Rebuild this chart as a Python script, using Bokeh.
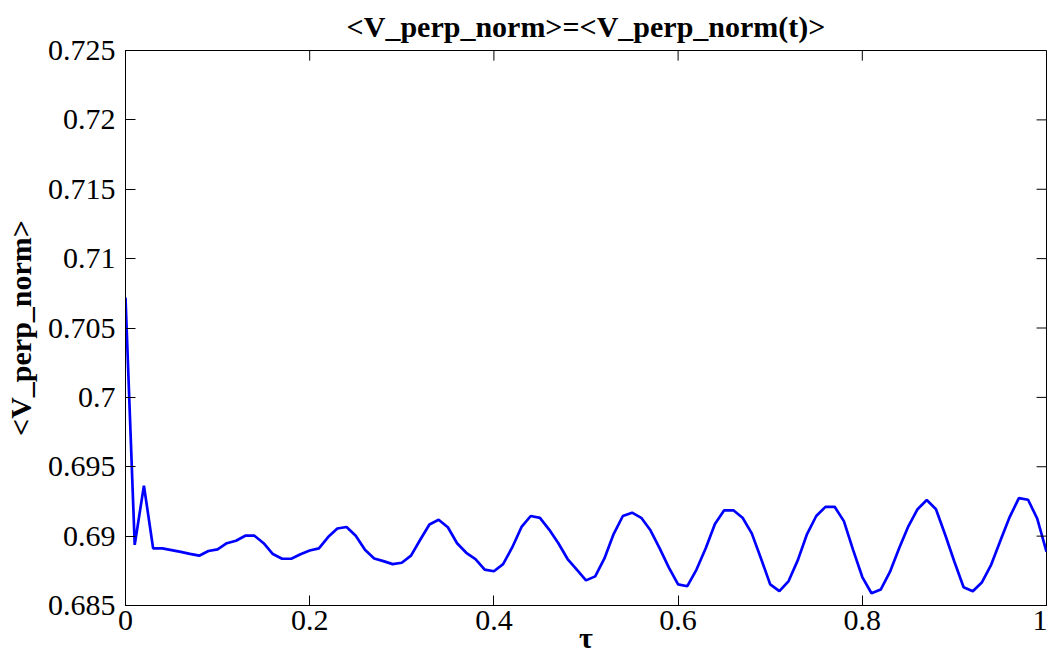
from bokeh.plotting import figure
from bokeh.models import Range1d, FixedTicker
from bokeh.embed import file_html
from bokeh.resources import INLINE

tau = [round(i * 0.01, 2) for i in range(101)]
v_perp_norm = [
    0.70720, 0.68937, 0.69364, 0.68912, 0.68912, 0.68899, 0.68886, 0.68872, 0.68859, 0.68893,
    0.68905, 0.68949, 0.68967, 0.69003, 0.69003, 0.68949, 0.68871, 0.68837, 0.68837, 0.68869,
    0.68896, 0.68912, 0.68993, 0.69055, 0.69066, 0.69003, 0.68901, 0.68839, 0.68820, 0.68798,
    0.68808, 0.68859, 0.68974, 0.69084, 0.69118, 0.69064, 0.68949, 0.68880, 0.68835, 0.68759,
    0.68747, 0.68798, 0.68920, 0.69066, 0.69145, 0.69132, 0.69047, 0.68949, 0.68835, 0.68759,
    0.68681, 0.68710, 0.68839, 0.69015, 0.69145, 0.69169, 0.69132, 0.69042, 0.68912, 0.68773,
    0.68652, 0.68639, 0.68759, 0.68912, 0.69088, 0.69186, 0.69186, 0.69132, 0.69020, 0.68839,
    0.68652, 0.68603, 0.68676, 0.68827, 0.69015, 0.69145, 0.69211, 0.69211, 0.69108, 0.68901,
    0.68705, 0.68588, 0.68615, 0.68742, 0.68912, 0.69071, 0.69194, 0.69260, 0.69194, 0.69010,
    0.68815, 0.68632, 0.68603, 0.68668, 0.68795, 0.68969, 0.69137, 0.69274, 0.69262, 0.69125,
    0.68888,
]

x_ticks = [0, 0.2, 0.4, 0.6, 0.8, 1]
x_tick_labels = ["0", "0.2", "0.4", "0.6", "0.8", "1"]
y_ticks = [0.685, 0.69, 0.695, 0.7, 0.705, 0.71, 0.715, 0.72, 0.725]
y_tick_labels = ["0.685", "0.69", "0.695", "0.7", "0.705", "0.71", "0.715", "0.72", "0.725"]

title_text = "<V_perp_norm>=<V_perp_norm(t)>"
x_label = "τ"
y_label = "<V_perp_norm>"

FONT = "Liberation Serif"
X0, X1 = 0, 1
Y0, Y1 = 0.685, 0.725
TICK_PX = 10
FRAME_W, FRAME_H = 926, 546

p = figure(width=1047, height=656, output_backend="svg", toolbar_location=None,
           x_range=Range1d(X0, X1), y_range=Range1d(Y0, Y1),
           min_border_left=120, min_border_right=1, min_border_top=49, min_border_bottom=10,
           title=title_text)

p.title.text_font = FONT
p.title.text_font_size = "30px"
p.title.text_font_style = "bold"
p.title.align = "center"
p.title.text_color = "black"
p.title.standoff = 15

p.xgrid.visible = False
p.ygrid.visible = False
p.outline_line_color = "black"
p.outline_line_width = 1
p.background_fill_color = "white"
p.border_fill_color = "white"

p.line(tau, v_perp_norm, line_color="#0000ff", line_width=2.7)

# inward ticks on the top and right edges of the box (MATLAB "box on")
dy = TICK_PX * (Y1 - Y0) / FRAME_H
dx = TICK_PX * (X1 - X0) / FRAME_W
p.segment(x0=x_ticks, y0=[Y1] * len(x_ticks), x1=x_ticks, y1=[Y1 - dy] * len(x_ticks),
          line_color="black", line_width=1)
p.segment(x0=[X1] * len(y_ticks), y0=y_ticks, x1=[X1 - dx] * len(y_ticks), y1=y_ticks,
          line_color="black", line_width=1)

def style_axis(ax, ticks, labels):
    ax.ticker = FixedTicker(ticks=ticks)
    ax.major_label_overrides = {t: l for t, l in zip(ticks, labels)}
    ax.major_tick_in = TICK_PX
    ax.major_tick_out = 0
    ax.minor_tick_in = 0
    ax.minor_tick_out = 0
    ax.axis_line_color = "black"
    ax.major_tick_line_color = "black"
    ax.major_label_text_font = FONT
    ax.major_label_text_color = "black"
    ax.major_label_text_font_size = "30px"
    ax.axis_label_text_font = FONT
    ax.axis_label_text_font_size = "30px"
    ax.axis_label_text_font_style = "bold"
    ax.axis_label_text_color = "black"

xa = p.xaxis[0]
style_axis(xa, x_ticks, x_tick_labels)
xa.major_label_standoff = 5
xa.axis_label = x_label
xa.axis_label_standoff = -12

ya = p.yaxis[0]
style_axis(ya, y_ticks, y_tick_labels)
ya.major_label_standoff = 10
ya.axis_label = y_label
ya.axis_label_standoff = 8

open("out.html", "w").write(file_html(p, INLINE))
